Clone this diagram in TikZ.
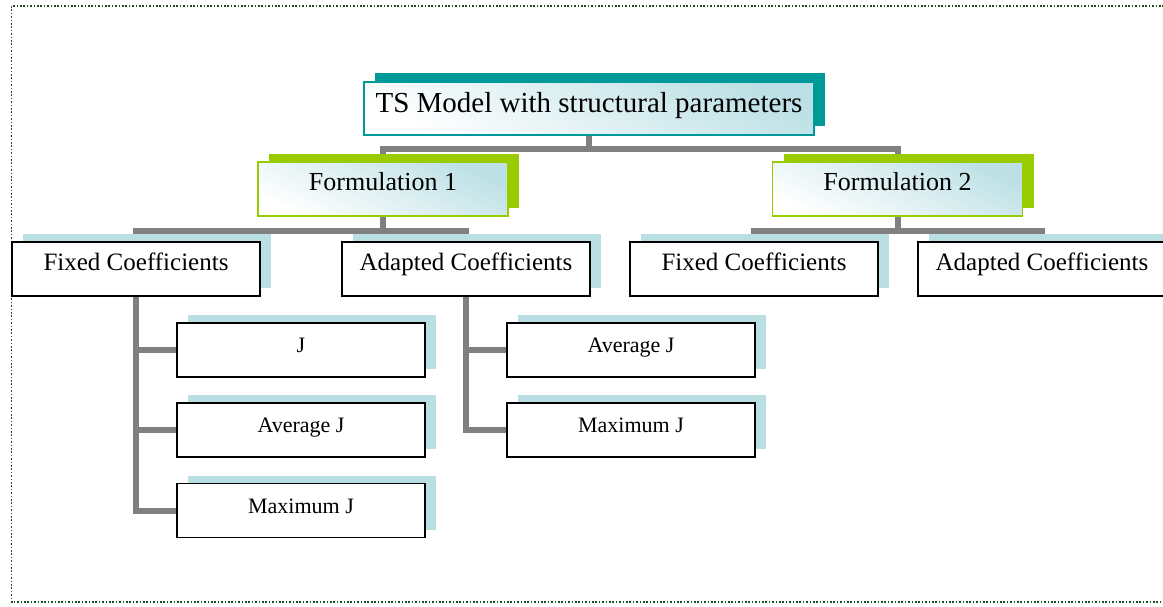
\documentclass[tikz,border=0pt]{standalone}
\usepackage{fontspec}
\setmainfont{Liberation Serif}
\usetikzlibrary{shadows,backgrounds}

\definecolor{tealc}{HTML}{009999}
\definecolor{greenc}{HTML}{99CC00}
\definecolor{skyc}{HTML}{BCE0E5}
\definecolor{shadowc}{HTML}{B9DFE3}
\definecolor{greyc}{HTML}{808080}
\definecolor{framec}{HTML}{1F4F1F}

\tikzset{
  topbox/.style={draw=tealc, line width=1.5pt, inner sep=0pt,
    minimum width=450pt, minimum height=53pt,
    top color=skyc, bottom color=white, shading angle=-25,
    drop shadow={opacity=1, fill=tealc, shadow xshift=11pt, shadow yshift=9pt},
    font=\fontsize{29}{34}\selectfont, text height=20pt, text depth=11pt},
  formbox/.style={draw=greenc, line width=1.5pt, inner sep=0pt,
    minimum width=250pt, minimum height=54pt,
    top color=skyc, bottom color=white, shading angle=-25,
    drop shadow={opacity=1, fill=greenc, shadow xshift=11pt, shadow yshift=8pt},
    font=\fontsize{26}{30}\selectfont, text height=18pt, text depth=15pt},
  coefbox/.style={draw=black, line width=1.6pt, fill=white, inner sep=0pt,
    minimum width=248pt, minimum height=54pt,
    drop shadow={opacity=1, fill=shadowc, shadow xshift=11pt, shadow yshift=8pt},
    font=\fontsize{25}{30}\selectfont, text height=17pt, text depth=15pt},
  leafbox/.style={coefbox, font=\fontsize{22}{26}\selectfont,
    text height=16pt, text depth=11pt},
  conn/.style={draw=greyc, line width=6pt},
}

\begin{document}
\begin{tikzpicture}[x=1pt,y=-1pt]
    \useasboundingbox (0,0) rectangle (1163,607);
    \draw[framec, line width=1.6pt, dash pattern=on 1.6pt off 1.8pt] (11.5,6) rectangle (1180,602);

    \node[topbox] (ts) at (589,108.5) {TS Model with structural parameters};
    \node[formbox] (f1) at (383,189) {Formulation 1};
    \node[formbox] (f2) at (897.5,189) {Formulation 2};

    \node[coefbox] (fixl) at (136,269) {Fixed Coefficients};
    \node[coefbox] (adal) at (466,269) {Adapted Coefficients};
    \node[coefbox] (fixr) at (754,269) {Fixed Coefficients};
    \node[coefbox] (adar) at (1042,269) {Adapted Coefficients};

    \node[leafbox] (lj) at (301,350) {J};
    \node[leafbox] (lavg) at (301,430) {Average J};
    \node[leafbox] (lmax) at (301,510.5) {Maximum J};
    \node[leafbox] (ravg) at (631,350) {Average J};
    \node[leafbox] (rmax) at (631,430) {Maximum J};

    \begin{scope}[on background layer]
    \draw[conn] (ts.south) -- ++(0,13) -| (f1.north);
    \draw[conn] (ts.south) -- ++(0,13) -| (f2.north);
    \draw[conn] (f1.south) -- ++(0,14) -| (fixl.north);
    \draw[conn] (f1.south) -- ++(0,14) -| (adal.north);
    \draw[conn] (f2.south) -- ++(0,14) -| (fixr.north);
    \draw[conn] (f2.south) -- ++(0,14) -| (adar.north);
    \draw[conn] (fixl.south) |- (lj.west);
    \draw[conn] (fixl.south) |- (lavg.west);
    \draw[conn] (fixl.south) |- (lmax.west);
    \draw[conn] (adal.south) |- (ravg.west);
    \draw[conn] (adal.south) |- (rmax.west);
    \end{scope}
\end{tikzpicture}
\end{document}
